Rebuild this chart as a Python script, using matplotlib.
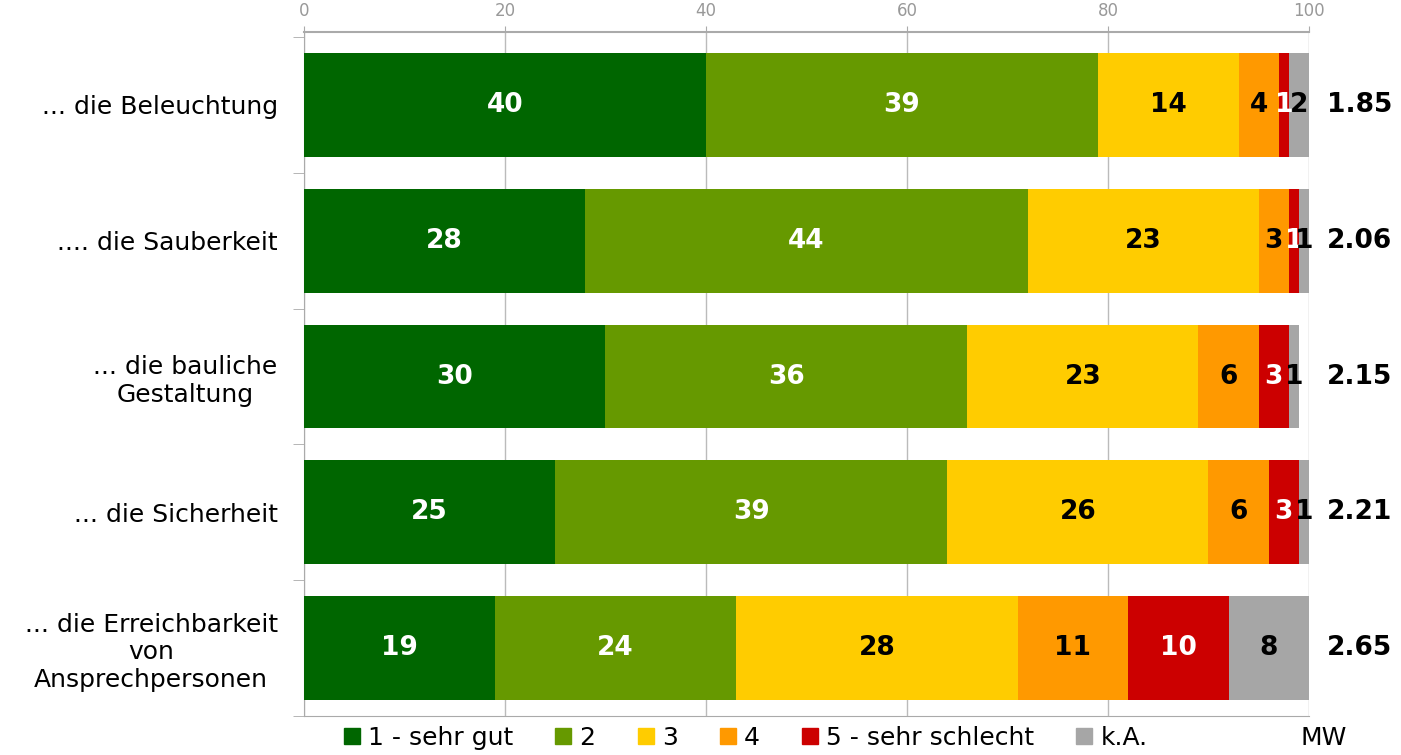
import matplotlib
matplotlib.use("Agg")
import matplotlib.pyplot as plt
from matplotlib.lines import Line2D
import numpy as np

# Bewertung je Aspekt in Prozent (Reihenfolge: 1 - sehr gut ... k.A.)
categories = [
    "... die Beleuchtung",
    ".... die Sauberkeit",
    "... die bauliche\nGestaltung",
    "... die Sicherheit",
    "... die Erreichbarkeit\nvon\nAnsprechpersonen",
]
series_names = ["1 - sehr gut", "2", "3", "4", "5 - sehr schlecht", "k.A."]
sehr_gut = [40, 28, 30, 25, 19]
gut = [39, 44, 36, 39, 24]
mittel = [14, 23, 23, 26, 28]
schlecht = [4, 3, 6, 6, 11]
sehr_schlecht = [1, 1, 3, 3, 10]
keine_angabe = [2, 1, 1, 1, 8]
mittelwert = ["1.85", "2.06", "2.15", "2.21", "2.65"]

colors = ["#006600", "#669900", "#FFCC00", "#FF9900", "#CC0000", "#A6A6A6"]
text_colors = ["white", "white", "black", "black", "white", "black"]

fig = plt.figure(figsize=(14.01, 7.55), dpi=100)
ax = fig.add_axes([0.217, 0.0517, 0.7173, 0.9059])

series = [sehr_gut, gut, mittel, schlecht, sehr_schlecht, keine_angabe]
y = np.arange(len(categories))
left = np.zeros(len(categories))
for vals, col, tcol in zip(series, colors, text_colors):
    vals = np.array(vals, dtype=float)
    ax.barh(y, vals, left=left, height=0.765, color=col, zorder=3)
    for yi, (l, v) in enumerate(zip(left, vals)):
        ax.text(l + v / 2, yi, f"{v:.0f}", ha="center", va="center",
                color=tcol, fontsize=19, fontweight="bold", zorder=4)
    left += vals

# Mittelwerte rechts neben den Balken
for yi, mw in enumerate(mittelwert):
    ax.text(108.3, yi, mw, ha="right", va="center", fontsize=19,
            fontweight="bold", color="black", clip_on=False)
ax.text(101.5, -0.032, "MW", transform=ax.get_xaxis_transform(),
        ha="center", va="center", fontsize=18, clip_on=False)

ax.set_xlim(0, 100)
ax.set_ylim(4.485, -0.537)
ax.set_xticks([0, 20, 40, 60, 80, 100])
ax.xaxis.tick_top()
ax.tick_params(axis="x", colors="#AAAAAA", labelsize=12, length=4, pad=5,
               labelcolor="#999999")
ax.grid(axis="x", color="#BBBBBB", linewidth=1, zorder=0)

ax.set_yticks(y)
ax.set_yticklabels(categories, fontsize=18, multialignment="center")
ax.set_yticks(np.arange(len(categories) + 1) - 0.5, minor=True)
ax.tick_params(axis="y", which="major", length=0, pad=19)
ax.tick_params(axis="y", which="minor", length=8, color="#AAAAAA")

for side in ["top", "bottom", "left"]:
    ax.spines[side].set_color("#AAAAAA")
ax.spines["top"].set_linewidth(1.5)
ax.spines["right"].set_visible(False)

handles = [Line2D([], [], marker="s", linestyle="none", markersize=11,
                  markerfacecolor=c, markeredgecolor=c) for c in colors]
leg = fig.legend(handles, series_names, loc="center", ncol=6,
                 bbox_to_anchor=(0.532, 0.0225), frameon=False,
                 handlelength=0.7, handletextpad=0.3, columnspacing=1.65,
                 prop={"size": 18})

fig.savefig("out.png", dpi=100)
